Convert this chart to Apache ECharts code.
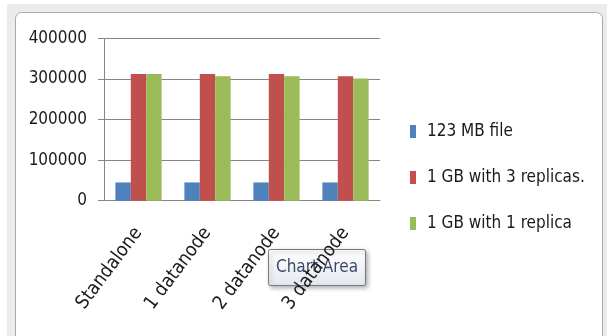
<!DOCTYPE html>
<html>
<head>
<meta charset="utf-8">
<script src="https://cdn.jsdelivr.net/npm/echarts@6/dist/echarts.min.js"></script>
<style>
  html, body { margin: 0; padding: 0; background: #ffffff; }
  #chart { width: 608px; height: 336px; }
</style>
</head>
<body>
<div id="chart"></div>
<script>
// Upload times by cluster setup
const categories = ['Standalone', '1 datanode', '2 datanode', '3 datanode'];
const seriesNames = ['123 MB file', '1 GB with 3 replicas.', '1 GB with 1 replica'];
const file123MB = [45000, 45000, 45000, 45000];
const gb1With3Replicas = [312000, 312000, 312000, 307000];
const gb1With1Replica = [312000, 307000, 307000, 301000];
const yTicks = [0, 100000, 200000, 300000, 400000];

const FONT = "'DejaVu Sans Condensed', 'Liberation Sans Narrow', sans-serif";
const TEXT = '#1a1a1a';
const AXIS = '#868686';
const colors = ['#4f81bd', '#c0504d', '#9bbb59'];

const chart = echarts.init(document.getElementById('chart'), null, { renderer: 'canvas' });

const barSeries = [file123MB, gb1With3Replicas, gb1With1Replica].map((values, i) => ({
  name: seriesNames[i],
  type: 'bar',
  data: values,
  barGap: '0%',
  barCategoryGap: '33%',
  itemStyle: { color: colors[i] },
  z: 3
}));

chart.setOption({
  animation: false,
  color: colors,
  textStyle: { fontFamily: FONT },
  graphic: [
    // window frame around the chart area
    { type: 'rect', z: -10, shape: { x: 7, y: 4, width: 600, height: 340 },
      style: { fill: '#ebebeb' }, silent: true },
    { type: 'rect', z: -9, shape: { x: 15.5, y: 12.5, width: 587, height: 340, r: [6, 6, 0, 0] },
      style: { fill: '#ffffff', stroke: '#a9a9a9', lineWidth: 1 }, silent: true },
    // hover hint box
    {
      type: 'group', z: 100, left: 268, top: 249,
      children: [
        { type: 'rect', shape: { x: 0, y: 0, width: 97, height: 36, r: 2 },
          style: {
            fill: new echarts.graphic.LinearGradient(0, 0, 0, 1, [
              { offset: 0, color: '#ffffff' }, { offset: 1, color: '#e4e8f0' }
            ]),
            stroke: '#7a7a7a', lineWidth: 1,
            shadowBlur: 4, shadowOffsetX: 2, shadowOffsetY: 2, shadowColor: 'rgba(0,0,0,0.3)'
          } },
        { type: 'text', style: { x: 48.5, y: 18, text: 'Chart Area', align: 'center', verticalAlign: 'middle',
          fill: '#3b4868', font: "17px 'DejaVu Sans Condensed', sans-serif" } }
      ]
    }
  ],
  legend: {
    orient: 'vertical',
    left: 410,
    top: 122,
    padding: 0,
    itemWidth: 6,
    itemHeight: 13,
    itemGap: 27,
    icon: 'rect',
    textStyle: { color: TEXT, fontSize: 17, fontFamily: FONT, lineHeight: 19, padding: [0, 0, 0, 6] },
    data: seriesNames
  },
  grid: { left: 104, right: 228, top: 38.4, bottom: 135.3, containLabel: false },
  xAxis: {
    type: 'category',
    data: categories,
    axisLine: { lineStyle: { color: AXIS, width: 1 } },
    axisTick: { length: 9, lineStyle: { color: AXIS } },
    axisLabel: { rotate: 53, margin: 29, color: TEXT, fontSize: 19, fontFamily: FONT, interval: 0 }
  },
  yAxis: {
    type: 'value',
    min: yTicks[0],
    max: yTicks[yTicks.length - 1],
    interval: yTicks[1] - yTicks[0],
    axisLine: { show: true, lineStyle: { color: AXIS, width: 1 } },
    axisTick: { show: true, length: 6, lineStyle: { color: AXIS } },
    splitLine: { lineStyle: { color: AXIS, width: 1 } },
    axisLabel: { margin: 17, color: TEXT, fontSize: 17, fontFamily: FONT, formatter: v => String(v) }
  },
  series: barSeries
});
</script>
</body>
</html>
